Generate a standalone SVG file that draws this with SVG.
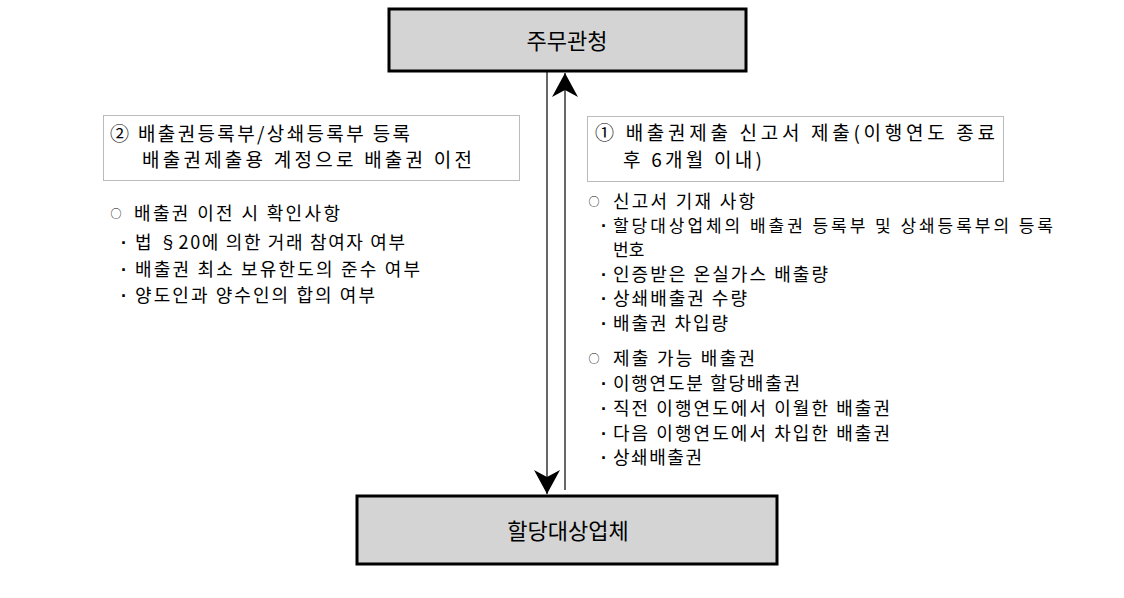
<svg xmlns="http://www.w3.org/2000/svg" width="1124" height="598" viewBox="0 0 1124 598">
<style>
.box{fill:#d4d4d4;stroke:#000;stroke-width:3}
.dot{fill:none;stroke:#777;stroke-width:1;stroke-dasharray:1,1}
text{font-family:"Noto Sans CJK KR","Noto Sans",sans-serif;fill:#000}
.t{font-size:22px;text-anchor:middle}
.m{font-size:19px}
.s{font-size:18px}
.s2{font-size:17px}
.c{font-size:11px;text-anchor:middle}
.b{font-family:"Liberation Sans",sans-serif;font-size:18px;font-weight:bold;text-anchor:middle}
.conn{stroke:#000;stroke-width:1.2;fill:none}
</style>
<defs>
<marker id="ah" markerUnits="userSpaceOnUse" markerWidth="30" markerHeight="30" viewBox="-26 -15 28 30" refX="0" refY="0" orient="auto">
<path d="M0,0 L-24,-13 L-17,0 L-24,13 Z" fill="#000"/>
</marker>
</defs>
<rect width="1124" height="598" fill="#fff"/>
<g id="connectors">
<line class="conn" x1="547" y1="72" x2="547" y2="494" marker-end="url(#ah)"/>
<line class="conn" x1="565" y1="490" x2="565" y2="73" marker-end="url(#ah)"/>
</g>
<g id="authority">
<rect class="box" x="389" y="9" width="357" height="62"/>
<text class="t" x="567" y="49">주무관청</text>
</g>
<g id="company">
<rect class="box" x="357" y="496" width="420" height="68"/>
<text class="t" x="568" y="539">할당대상업체</text>
</g>
<g id="step2">
<rect class="dot" x="103.5" y="115.5" width="416" height="65"/>
<text class="m" x="110" y="141" textLength="300" lengthAdjust="spacing">② 배출권등록부/상쇄등록부 등록</text>
<text class="m" x="142" y="167" textLength="330" lengthAdjust="spacing">배출권제출용 계정으로 배출권 이전</text>
</g>
<g id="step1">
<rect class="dot" x="587.5" y="116.5" width="416" height="65"/>
<text class="m" x="595" y="140" textLength="400" lengthAdjust="spacing">① 배출권제출 신고서 제출(이행연도 종료</text>
<text class="m" x="623" y="167" textLength="139" lengthAdjust="spacing">후 6개월 이내)</text>
</g>
<g id="left-list">
<text class="c" x="116" y="218">○</text>
<text class="s" x="134" y="220" textLength="206" lengthAdjust="spacing">배출권 이전 시 확인사항</text>
<text class="b" x="124" y="249">·</text>
<text class="s" x="135" y="249" textLength="270" lengthAdjust="spacing">법 §20에 의한 거래 참여자 여부</text>
<text class="b" x="124" y="276">·</text>
<text class="s" x="135" y="276" textLength="285" lengthAdjust="spacing">배출권 최소 보유한도의 준수 여부</text>
<text class="b" x="124" y="302">·</text>
<text class="s" x="135" y="302" textLength="240" lengthAdjust="spacing">양도인과 양수인의 합의 여부</text>
</g>
<g id="right-list">
<text class="c" x="594" y="206">○</text>
<text class="s" x="613" y="208" textLength="142" lengthAdjust="spacing">신고서 기재 사항</text>
<text class="b" x="604" y="232">·</text>
<text class="s2" x="613" y="232" textLength="440" lengthAdjust="spacing">할당대상업체의 배출권 등록부 및 상쇄등록부의 등록</text>
<text class="s2" x="613" y="256">번호</text>
<text class="b" x="604" y="281">·</text>
<text class="s" x="613" y="281" textLength="215" lengthAdjust="spacing">인증받은 온실가스 배출량</text>
<text class="b" x="604" y="305">·</text>
<text class="s" x="613" y="305" textLength="134" lengthAdjust="spacing">상쇄배출권 수량</text>
<text class="b" x="604" y="330">·</text>
<text class="s" x="613" y="330" textLength="115" lengthAdjust="spacing">배출권 차입량</text>
<text class="c" x="594" y="363">○</text>
<text class="s" x="613" y="365" textLength="142" lengthAdjust="spacing">제출 가능 배출권</text>
<text class="b" x="604" y="390">·</text>
<text class="s" x="613" y="390" textLength="187" lengthAdjust="spacing">이행연도분 할당배출권</text>
<text class="b" x="604" y="415">·</text>
<text class="s" x="613" y="415" textLength="277" lengthAdjust="spacing">직전 이행연도에서 이월한 배출권</text>
<text class="b" x="604" y="440">·</text>
<text class="s" x="613" y="440" textLength="277" lengthAdjust="spacing">다음 이행연도에서 차입한 배출권</text>
<text class="b" x="604" y="464">·</text>
<text class="s" x="613" y="464" textLength="89" lengthAdjust="spacing">상쇄배출권</text>
</g>
</svg>
